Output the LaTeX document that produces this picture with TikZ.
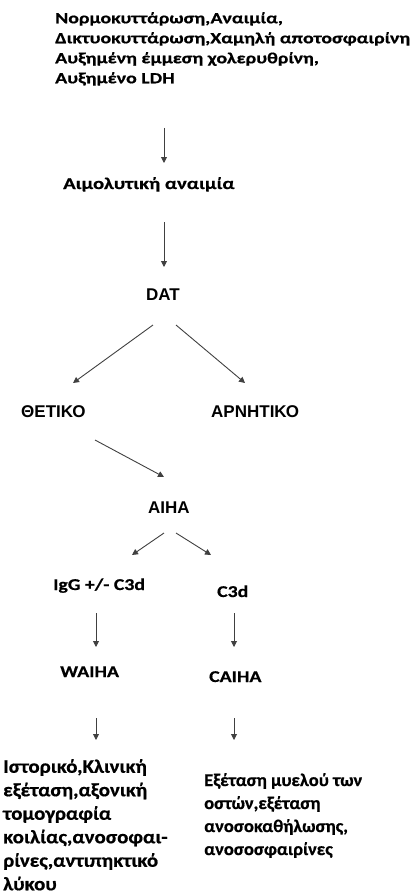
\documentclass[tikz,border=0pt]{standalone}
\usepackage{fontspec}
\setmainfont{Carlito}
\newfontfamily\capsfont{Liberation Sans}
\newfontfamily\topfont{Carlito}[FakeStretch=1.28,BoldFeatures={FakeBold=0.6}]
\newfontfamily\hemofont{Carlito}[FakeStretch=1.25,BoldFeatures={FakeBold=0.6}]
\newfontfamily\midfont{Carlito}[FakeStretch=1.2,BoldFeatures={FakeBold=0.6}]
\newfontfamily\warmfont{Carlito}[FakeStretch=1.1,BoldFeatures={FakeBold=0.6}]
\newfontfamily\coldfont{Carlito}[FakeStretch=1.03,BoldFeatures={FakeBold=0.6}]
\usetikzlibrary{arrows.meta}

\begin{document}
\begin{tikzpicture}[x=1pt,y=-1pt,
  every node/.style={inner sep=0pt,text=black},
  lbl/.style={font=\midfont\bfseries\fontsize{16.5}{20}\selectfont,anchor=base west},
  caps/.style={font=\capsfont\bfseries\fontsize{17}{20}\selectfont,anchor=base west},
  para/.style={align=left,anchor=north west},
  arr/.style={draw=black!75,line width=0.9pt,-{Triangle[length=6pt,width=6pt]}}]
\useasboundingbox (0,0) rectangle (419,894);

% laboratory findings
\node[para,font=\topfont\bfseries\fontsize{15.5}{20}\selectfont] (labs) at (55,12)
  {Νορμοκυττάρωση,Αναιμία,\\Δικτυοκυττάρωση,Χαμηλή αποτοσφαιρίνη\\Αυξημένη έμμεση χολερυθρίνη,\\Αυξημένο LDH};

\node[lbl,font=\hemofont\bfseries\fontsize{16.5}{20}\selectfont] (hemo) at (63,189) {Αιμολυτική αναιμία};
\node[caps,anchor=base] (dat) at (163,300) {DAT};
\node[caps] (pos) at (21,417) {ΘΕΤΙΚΟ};
\node[caps] (neg) at (211,417) {ΑΡΝΗΤΙΚΟ};
\node[caps] (aiha) at (148,513) {ΑΙΗΑ};
\node[lbl] (igg) at (53,590) {IgG +/- C3d};
\node[lbl] (c3d) at (217,597) {C3d};
\node[lbl] (waiha) at (60,677) {WAIHA};
\node[lbl] (caiha) at (209,682) {CAIHA};

% further work-up
\node[para,font=\warmfont\bfseries\fontsize{19}{23.5}\selectfont] (warm) at (3,759)
  {Ιστορικό,Κλινική\\εξέταση,αξονική\\τομογραφία\\κοιλίας,ανοσοφαι-\\ρίνες,αντιπηκτικό\\λύκου};
\node[para,font=\coldfont\bfseries\fontsize{18}{23}\selectfont] (cold) at (204,773)
  {Εξέταση μυελού των\\οστών,εξέταση\\ανοσοκαθήλωσης,\\ανοσοσφαιρίνες};

% connectors
\draw[arr] ([shift={(109,42)}]labs.south west) -- ([shift={(101,-26)}]hemo.base west);
\draw[arr] ([shift={(101,33)}]hemo.base west) -- ([shift={(1,-33)}]dat.base);
\draw[arr] ([shift={(-10,25)}]dat.base) -- ([shift={(52,-34)}]pos.base west);
\draw[arr] ([shift={(13,25)}]dat.base) -- ([shift={(34,-34)}]neg.base west);
\draw[arr] ([shift={(74,23)}]pos.base west) -- ([shift={(16,-36)}]aiha.base west);
\draw[arr] ([shift={(16,20)}]aiha.base west) -- ([shift={(79,-35)}]igg.base west);
\draw[arr] ([shift={(28,20)}]aiha.base west) -- ([shift={(-6,-42)}]c3d.base west);
\draw[arr] ([shift={(43,23)}]igg.base west) -- ([shift={(36,-30)}]waiha.base west);
\draw[arr] ([shift={(17,16)}]c3d.base west) -- ([shift={(25,-35)}]caiha.base west);
\draw[arr] ([shift={(36,41)}]waiha.base west) -- ([shift={(93,-19)}]warm.north west);
\draw[arr] ([shift={(25,36)}]caiha.base west) -- ([shift={(30,-33)}]cold.north west);
\end{tikzpicture}
\end{document}
